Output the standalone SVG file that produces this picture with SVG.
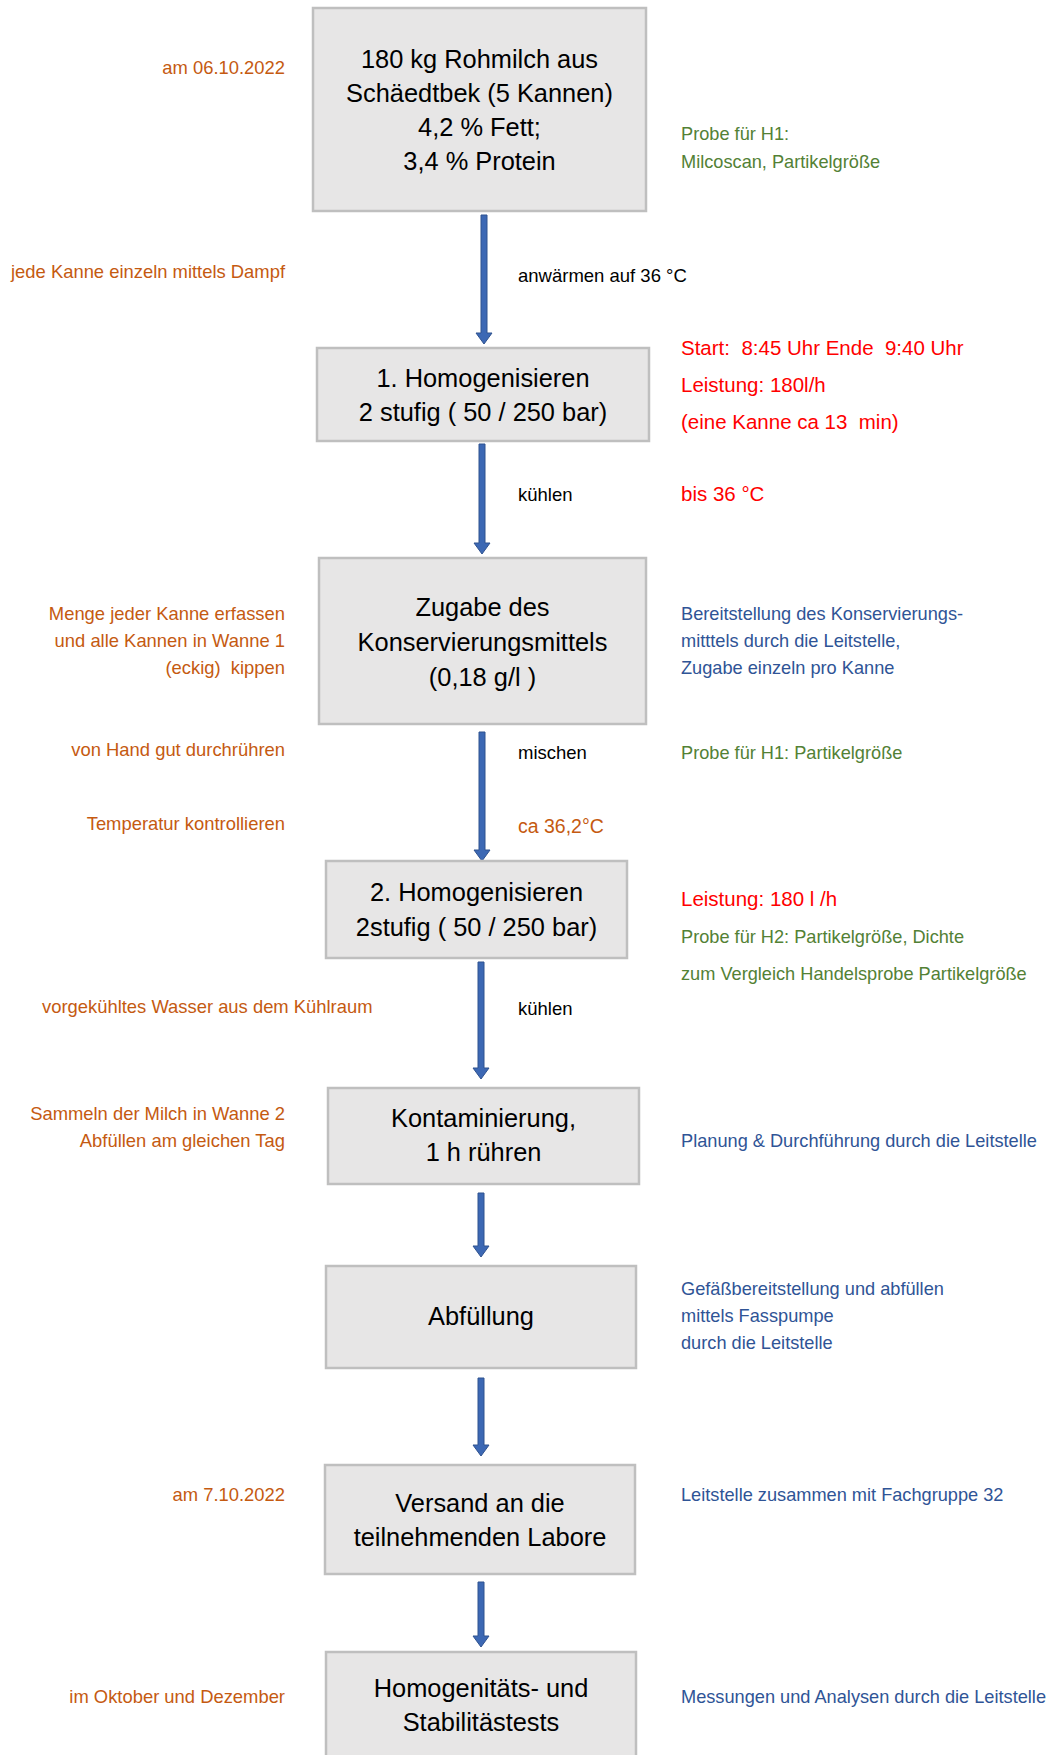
<svg xmlns="http://www.w3.org/2000/svg" width="1054" height="1755" viewBox="0 0 1054 1755">
<style>
text{font-family:"Liberation Sans",Arial,sans-serif;white-space:pre}
.box{fill:#E7E6E6;stroke:#BFBFBF;stroke-width:2.5}
.bt{font-size:25.4px;fill:#000;text-anchor:middle}
.lbl{font-size:18.5px;fill:#000}
.or{font-size:18.4px;fill:#C55A11}
.l{text-anchor:end}
.gr{font-size:18.2px;fill:#538135}
.bl{font-size:18.2px;fill:#2F5496}
.rd{font-size:20.5px;fill:#FF0000}
.arr{fill:#3C68B4;stroke:#2F528F;stroke-width:1}
</style>
<rect width="1054" height="1755" fill="#fff"/>
<g id="connectors">
<polygon class="arr" points="481,215 487,215 487,333 492,333 484,344 476,333 481,333"/>
<polygon class="arr" points="479,444 485,444 485,543 490,543 482,554 474,543 479,543"/>
<polygon class="arr" points="479,732 485,732 485,850 490,850 482,861 474,850 479,850"/>
<polygon class="arr" points="478,962 484,962 484,1068 489,1068 481,1079 473,1068 478,1068"/>
<polygon class="arr" points="478,1193 484,1193 484,1246 489,1246 481,1257 473,1246 478,1246"/>
<polygon class="arr" points="478,1378 484,1378 484,1445 489,1445 481,1456 473,1445 478,1445"/>
<polygon class="arr" points="478,1582 484,1582 484,1636 489,1636 481,1647 473,1636 478,1636"/>
</g>
<g id="n1">
<rect class="box" x="313" y="8" width="333" height="203"/>
<text class="bt" x="479.5" y="68">180 kg Rohmilch aus</text>
<text class="bt" x="479.5" y="102">Schäedtbek (5 Kannen)</text>
<text class="bt" x="479.5" y="136">4,2 % Fett;</text>
<text class="bt" x="479.5" y="170">3,4 % Protein</text>
</g>
<g id="n2">
<rect class="box" x="317" y="348" width="332" height="93"/>
<text class="bt" x="483" y="387">1. Homogenisieren</text>
<text class="bt" x="483" y="421">2 stufig ( 50 / 250 bar)</text>
</g>
<g id="n3">
<rect class="box" x="319" y="558" width="327" height="166"/>
<text class="bt" x="482.5" y="616">Zugabe des</text>
<text class="bt" x="482.5" y="651">Konservierungsmittels</text>
<text class="bt" x="482.5" y="686">(0,18 g/l )</text>
</g>
<g id="n4">
<rect class="box" x="326" y="861" width="301" height="97"/>
<text class="bt" x="476.5" y="901">2. Homogenisieren</text>
<text class="bt" x="476.5" y="936">2stufig ( 50 / 250 bar)</text>
</g>
<g id="n5">
<rect class="box" x="328" y="1088" width="311" height="96"/>
<text class="bt" x="483.5" y="1127">Kontaminierung,</text>
<text class="bt" x="483.5" y="1161">1 h rühren</text>
</g>
<g id="n6">
<rect class="box" x="326" y="1266" width="310" height="102"/>
<text class="bt" x="481" y="1325">Abfüllung</text>
</g>
<g id="n7">
<rect class="box" x="325" y="1465" width="310" height="109"/>
<text class="bt" x="480" y="1512">Versand an die</text>
<text class="bt" x="480" y="1546">teilnehmenden Labore</text>
</g>
<g id="n8">
<rect class="box" x="326" y="1652" width="310" height="120"/>
<text class="bt" x="481" y="1697">Homogenitäts- und</text>
<text class="bt" x="481" y="1731">Stabilitästests</text>
</g>
<g id="notes">
<text class="or l" x="285" y="74">am 06.10.2022</text>
<text class="gr" x="681" y="140">Probe für H1:</text>
<text class="gr" x="681" y="168">Milcoscan, Partikelgröße</text>
<text class="or l" x="285" y="278">jede Kanne einzeln mittels Dampf</text>
<text class="lbl" x="518" y="282">anwärmen auf 36 °C</text>
<text class="rd" x="681" y="355">Start:  8:45 Uhr Ende  9:40 Uhr</text>
<text class="rd" x="681" y="392">Leistung: 180l/h</text>
<text class="rd" x="681" y="429">(eine Kanne ca 13  min)</text>
<text class="lbl" x="518" y="501">kühlen</text>
<text class="rd" x="681" y="501">bis 36 °C</text>
<text class="or l" x="285" y="620">Menge jeder Kanne erfassen</text>
<text class="or l" x="285" y="647">und alle Kannen in Wanne 1</text>
<text class="or l" x="285" y="674">(eckig)  kippen</text>
<text class="bl" x="681" y="620">Bereitstellung des Konservierungs-</text>
<text class="bl" x="681" y="647">mitttels durch die Leitstelle,</text>
<text class="bl" x="681" y="674">Zugabe einzeln pro Kanne</text>
<text class="or l" x="285" y="756">von Hand gut durchrühren</text>
<text class="lbl" x="518" y="759">mischen</text>
<text class="gr" x="681" y="759">Probe für H1: Partikelgröße</text>
<text class="or l" x="285" y="830">Temperatur kontrollieren</text>
<text class="or" x="518" y="833" style="font-size:19.5px">ca 36,2°C</text>
<text class="rd" x="681" y="906">Leistung: 180 l /h</text>
<text class="gr" x="681" y="943">Probe für H2: Partikelgröße, Dichte</text>
<text class="gr" x="681" y="980">zum Vergleich Handelsprobe Partikelgröße</text>
<text class="or" x="42" y="1013">vorgekühltes Wasser aus dem Kühlraum</text>
<text class="lbl" x="518" y="1015">kühlen</text>
<text class="or l" x="285" y="1120">Sammeln der Milch in Wanne 2</text>
<text class="or l" x="285" y="1147">Abfüllen am gleichen Tag</text>
<text class="bl" x="681" y="1147">Planung &amp; Durchführung durch die Leitstelle</text>
<text class="bl" x="681" y="1295">Gefäßbereitstellung und abfüllen</text>
<text class="bl" x="681" y="1322">mittels Fasspumpe</text>
<text class="bl" x="681" y="1349">durch die Leitstelle</text>
<text class="or l" x="285" y="1501">am 7.10.2022</text>
<text class="bl" x="681" y="1501">Leitstelle zusammen mit Fachgruppe 32</text>
<text class="or l" x="285" y="1703">im Oktober und Dezember</text>
<text class="bl" x="681" y="1703">Messungen und Analysen durch die Leitstelle</text>
</g>
</svg>
